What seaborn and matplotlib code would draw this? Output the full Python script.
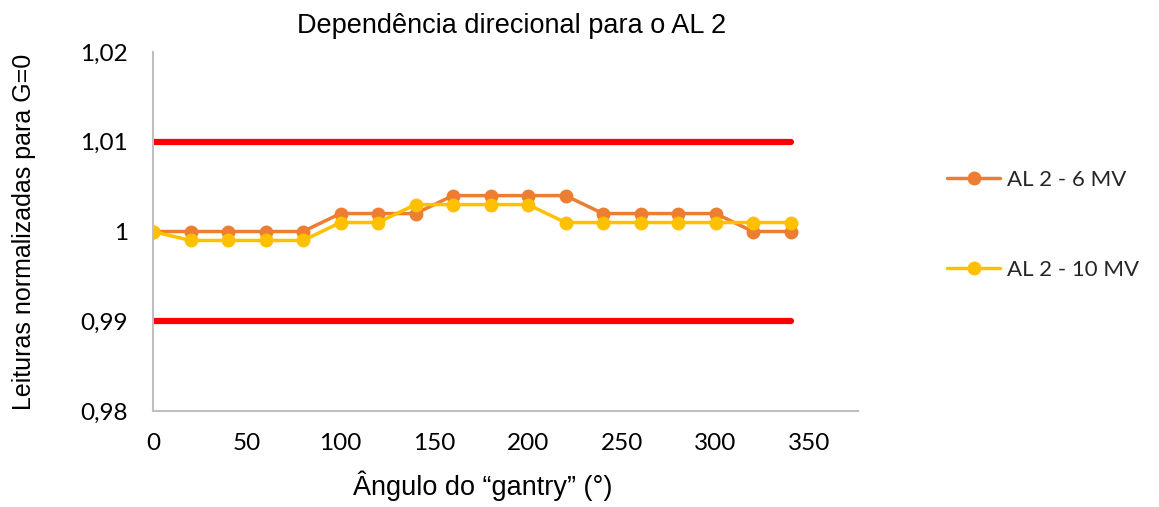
import matplotlib
matplotlib.use("Agg")
import matplotlib.pyplot as plt
import seaborn as sns
import pandas as pd
from matplotlib.ticker import FuncFormatter

angles = [0, 20, 40, 60, 80, 100, 120, 140, 160, 180, 200, 220, 240, 260, 280, 300, 320, 340]
al2_6mv = [1.000, 1.000, 1.000, 1.000, 1.000, 1.002, 1.002, 1.002, 1.004, 1.004, 1.004, 1.004,
           1.002, 1.002, 1.002, 1.002, 1.000, 1.000]
al2_10mv = [1.000, 0.999, 0.999, 0.999, 0.999, 1.001, 1.001, 1.003, 1.003, 1.003, 1.003, 1.001,
            1.001, 1.001, 1.001, 1.001, 1.001, 1.001]
limit_x = [0, 340]
upper_limit = [1.01, 1.01]
lower_limit = [0.99, 0.99]
series_names = ["AL 2 - 6 MV", "AL 2 - 10 MV"]

sns.set_theme(style="white")
plt.rcParams['font.family'] = ['Liberation Sans', 'DejaVu Sans']

fig = plt.figure(figsize=(11.59, 5.07), dpi=100)
ax = fig.add_axes([153/1159, (507-411)/507, (858-153)/1159, (411-52)/507])

sns.lineplot(x=limit_x, y=upper_limit, ax=ax, color="#FF0000", linewidth=4.5, legend=False)
sns.lineplot(x=limit_x, y=lower_limit, ax=ax, color="#FF0000", linewidth=4.5, legend=False)

df = pd.DataFrame({
    "angle": angles * 2,
    "value": al2_6mv + al2_10mv,
    "serie": [series_names[0]] * len(angles) + [series_names[1]] * len(angles),
})
sns.lineplot(data=df, x="angle", y="value", hue="serie", ax=ax,
             palette=["#ED7D31", "#FFC000"], linewidth=2.5, marker="o",
             markersize=10, markeredgewidth=0)

ax.set_xlim(0, 376)
ax.set_ylim(0.98, 1.02)
ax.set_xticks([0, 50, 100, 150, 200, 250, 300, 350])
ax.set_yticks([0.98, 0.99, 1.0, 1.01, 1.02])
ax.yaxis.set_major_formatter(FuncFormatter(lambda v, p: "1" if abs(v - 1) < 1e-9 else f"{v:.2f}".replace(".", ",")))
for lab in ax.get_xticklabels() + ax.get_yticklabels():
    lab.set_family(["Lato", "DejaVu Sans"])
    lab.set_fontsize(17.5)
ax.tick_params(axis="y", length=0, pad=18, colors="black")
ax.tick_params(axis="x", length=0, pad=16, colors="black")

for s in ["top", "right"]:
    ax.spines[s].set_visible(False)
for s in ["left", "bottom"]:
    ax.spines[s].set_color("#BFBFBF")
    ax.spines[s].set_linewidth(1.5)
ax.grid(False)

ax.set_title("Dependência direcional para o AL 2", fontsize=19.5, pad=14, color="black",
             x=(512 - 153) / 705)
ax.set_xlabel("Ângulo do “gantry” (°)", fontsize=19.5, labelpad=12, color="black")
ax.xaxis.label.set_x((483 - 153) / 705)
ax.set_ylabel("Leituras normalizadas para G=0", fontsize=18, labelpad=32, color="black")

leg = ax.legend(loc="center left", bbox_to_anchor=(927/1159, (507 - 225)/507),
                bbox_transform=fig.transFigure, frameon=False, labelspacing=3.15,
                handlelength=2.4, handletextpad=0.3,
                prop={"family": "Lato", "size": 16})

fig.savefig("out.png", dpi=100)
